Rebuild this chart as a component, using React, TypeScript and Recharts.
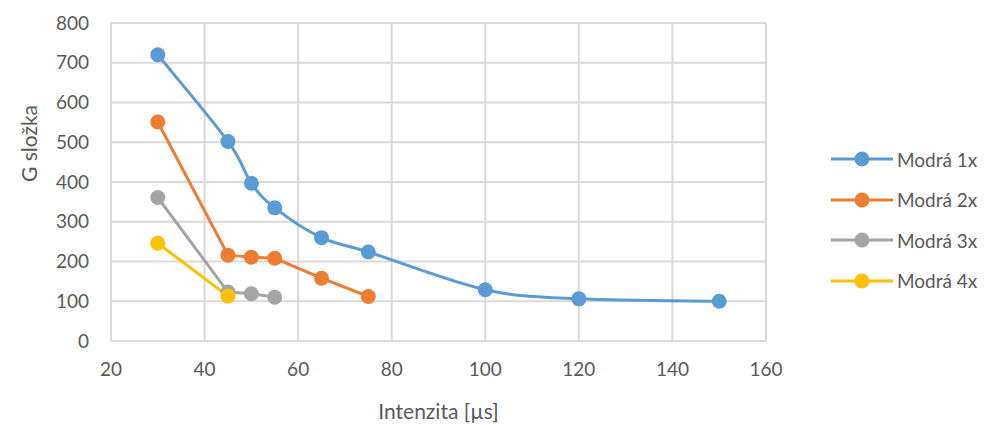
import { LineChart, Line, XAxis, YAxis, CartesianGrid } from "recharts";

const xBlue = [30, 45, 50, 55, 65, 75, 100, 120, 150];
const yBlue = [720, 502, 397, 335, 260, 224, 129, 106, 100];
const xOrange = [30, 45, 50, 55, 65, 75];
const yOrange = [551, 216, 211, 208, 158, 112];
const xGray = [30, 45, 50, 55];
const yGray = [361, 123, 119, 110];
const xYellow = [30, 45];
const yYellow = [246, 113];

const xTicks = [20, 40, 60, 80, 100, 120, 140, 160];
const yTicks = [0, 100, 200, 300, 400, 500, 600, 700, 800];

const toPoints = (xs: number[], ys: number[]) => xs.map((x, i) => ({ x, y: ys[i] }));

const SERIES = [
  { name: "Modrá 1x", color: "#5b9bd5", data: toPoints(xBlue, yBlue), smooth: true },
  { name: "Modrá 2x", color: "#ed7d31", data: toPoints(xOrange, yOrange), smooth: false },
  { name: "Modrá 3x", color: "#a5a5a5", data: toPoints(xGray, yGray), smooth: false },
  { name: "Modrá 4x", color: "#ffc000", data: toPoints(xYellow, yYellow), smooth: false },
];

const FONT = "Lato, 'Open Sans', sans-serif";
const TEXT = "#595959";

// Excel-like smoothed line (uniform Catmull-Rom as cubic Beziers)
function excelSmooth(context: any) {
  let pts: [number, number][] = [];
  return {
    areaStart() {},
    areaEnd() {},
    lineStart() {
      pts = [];
    },
    point(x: number, y: number) {
      pts.push([+x, +y]);
    },
    lineEnd() {
      if (!pts.length) return;
      context.moveTo(pts[0][0], pts[0][1]);
      for (let i = 0; i < pts.length - 1; i++) {
        const p0 = pts[Math.max(i - 1, 0)];
        const p1 = pts[i];
        const p2 = pts[i + 1];
        const p3 = pts[Math.min(i + 2, pts.length - 1)];
        context.bezierCurveTo(
          p1[0] + (p2[0] - p0[0]) / 6,
          p1[1] + (p2[1] - p0[1]) / 6,
          p2[0] - (p3[0] - p1[0]) / 6,
          p2[1] - (p3[1] - p1[1]) / 6,
          p2[0],
          p2[1]
        );
      }
    },
  };
}

function LegendBox() {
  return (
    <div style={{ position: "absolute", left: 831, top: 139, fontFamily: FONT, fontSize: 19, color: TEXT }}>
      {SERIES.map((s) => (
        <div key={s.name} style={{ display: "flex", alignItems: "center", height: 40.5 }}>
          <svg width={62} height={20}>
            <line x1={0} y1={10} x2={62} y2={10} stroke={s.color} strokeWidth={3} />
            <circle cx={31} cy={10} r={7.5} fill={s.color} />
          </svg>
          <span style={{ marginLeft: 4 }}>{s.name}</span>
        </div>
      ))}
    </div>
  );
}

export default function App() {
  return (
    <div style={{ position: "absolute", left: 0, top: 0, width: 1005, height: 425, background: "#fff" }}>
      <LineChart width={1005} height={425} margin={{ top: 23, right: 239, bottom: 0, left: 0 }}>
        <CartesianGrid stroke="#d9d9d9" strokeWidth={2} />
        <XAxis
          type="number"
          dataKey="x"
          domain={[20, 160]}
          ticks={xTicks}
          allowDuplicatedCategory={false}
          height={84}
          tickSize={0}
          tickMargin={22}
          axisLine={{ stroke: "#d9d9d9", strokeWidth: 2 }}
          tick={{ fontSize: 19, fill: TEXT, fontFamily: FONT }}
          label={{ value: "Intenzita [µs]", position: "insideBottom", offset: 6, fontSize: 21, fill: TEXT, fontFamily: FONT }}
        />
        <YAxis
          type="number"
          domain={[0, 800]}
          ticks={yTicks}
          width={111}
          tickSize={0}
          tickMargin={22}
          axisLine={false}
          tick={{ fontSize: 19, fill: TEXT, fontFamily: FONT }}
          label={{ value: "G složka", angle: -90, position: "insideLeft", offset: 30, fontSize: 21, fill: TEXT, fontFamily: FONT }}
        />
        {SERIES.map((s) => (
          <Line
            key={s.name}
            name={s.name}
            data={s.data}
            dataKey="y"
            type={s.smooth ? (excelSmooth as any) : "linear"}
            stroke={s.color}
            strokeWidth={3}
            dot={{ r: 7.5, fill: s.color, stroke: s.color, strokeWidth: 0 }}
            activeDot={false}
            isAnimationActive={false}
          />
        ))}
      </LineChart>
      <LegendBox />
    </div>
  );
}
